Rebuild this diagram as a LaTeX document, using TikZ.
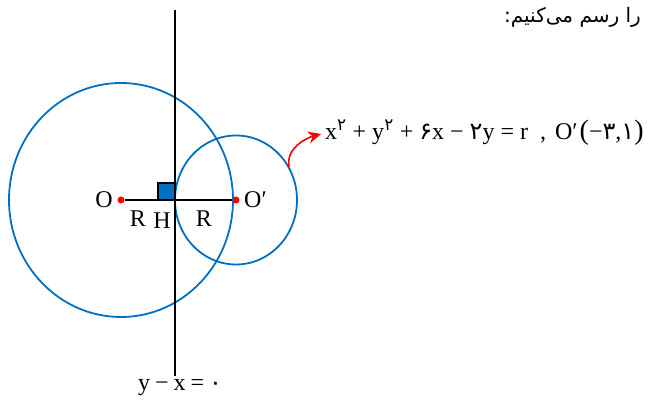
\documentclass[tikz,border=0pt]{standalone}
\usepackage{fontspec}
\setmainfont{Liberation Serif}
\newfontfamily\fafont[Script=Arabic]{DejaVu Sans}
\TeXXeTstate=1
\usetikzlibrary{arrows.meta}
\definecolor{cblue}{RGB}{0,112,192}
\newcommand{\op}[2][6pt]{\hspace{#1}#2\hspace{#1}}

\begin{document}
\begin{tikzpicture}[x=1pt, y=1pt,
  circ/.style={draw=cblue, line width=1.8pt},
  lbl/.style={font=\fontsize{24}{28}\selectfont, inner sep=0pt},
  dot/.style={circle, fill=red, inner sep=0pt, minimum size=7pt},
  >={Stealth[length=13pt, width=12pt]}]
\useasboundingbox (0,0) rectangle (648,403);
\coordinate (top) at (175,393);
\coordinate (bot) at (175,27);
\coordinate (H) at (175,203);
\coordinate (tail) at (289,236);
\draw[circ] (121,203) ellipse [x radius=112, y radius=117];
\draw[circ] (236,203) ellipse [x radius=61, y radius=64.5];
\node[dot] (O) at (121,203) {};
\node[dot] (Op) at (236,203) {};
\draw[line width=1.5pt] (O) -- (Op);
\draw[fill=cblue, line width=1.5pt] (H) rectangle ++(-17,17);
\draw[line width=2pt] (top) -- (bot);
\node[lbl, anchor=east] (lO) at (113,203) {O};
\node[lbl, anchor=west] (lOp) at (244,203) {O′};
\node[lbl] (R1) at (138,184) {R};
\node[lbl] (lH) at (162,182) {H};
\node[lbl] (R2) at (204,184) {R};
\node[lbl] (line) at (180,15) {y\op[5pt]{−}x\op[5pt]{=}{\fafont ۰}};
\node[lbl, anchor=west] (eq) at (325,270)
  {x\textsuperscript{\fafont ۲}\op{+}y\textsuperscript{\fafont ۲}\op{+}{\fafont ۶}x\op{−}{\fafont ۲}y\op{=}r\hspace{12pt},\hspace{9pt}O′\hspace{2pt}{\fontsize{28}{28}\selectfont(}−{\fafont ۳},{\fafont ۱}{\fontsize{28}{28}\selectfont)}};
\draw[red, line width=1.6pt, ->, shorten >=4pt] (tail) to[out=100, in=195] (eq.west);
\node[anchor=east, font=\fafont\fontsize{20}{24}\selectfont, inner sep=0pt] (note) at (641,386)
  {\beginR را رسم می^^^^200cکنیم:\endR};
\end{tikzpicture}
\end{document}
